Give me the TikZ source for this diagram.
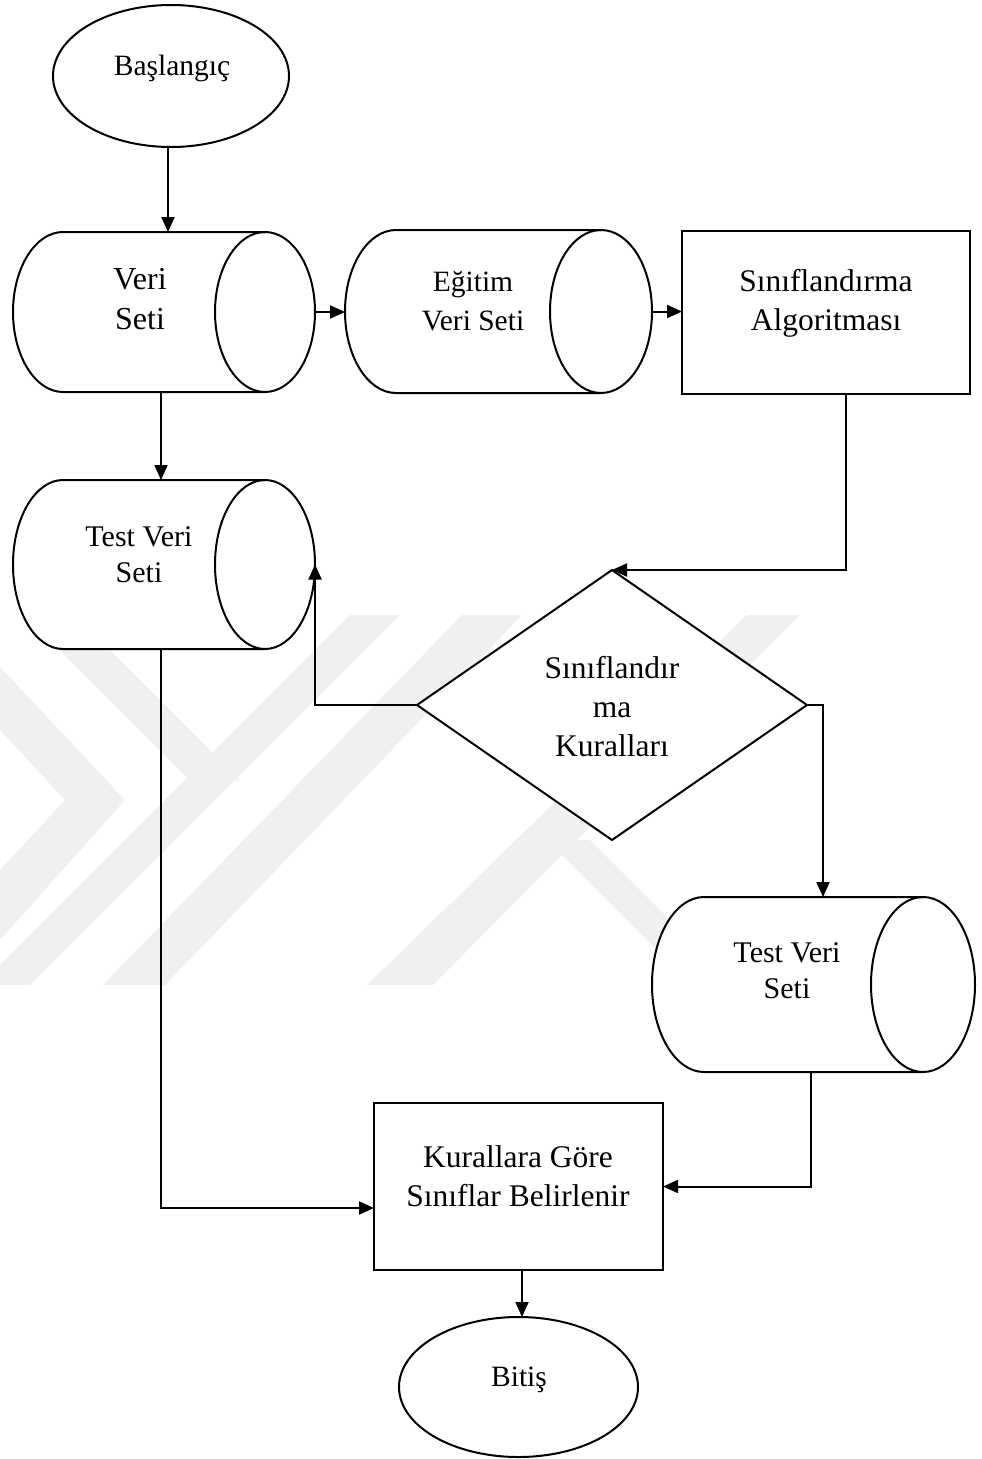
\documentclass[tikz,border=0pt]{standalone}
\usepackage{fontspec}
\setmainfont{Liberation Serif}[Ligatures=NoCommon]
\usetikzlibrary{arrows.meta,shapes.geometric,calc}
\newcommand{\mycyl}[6]{%
  \node[inner sep=0pt, outer sep=0pt, minimum width={(#3-#2)*1pt}, minimum height={(#5-#4)*1pt}] (#1) at ({(#2+#3)/2},{(#4+#5)/2}) {};
  \pgfmathsetmacro\cylry{(#5-#4)/2}
  \draw[plain, fill=white] ({#2+#6},#4) -- ({#3-#6},#4) arc[start angle=90, end angle=-90, x radius=#6pt, y radius=\cylry pt] -- ({#2+#6},#5) arc[start angle=270, end angle=90, x radius=#6pt, y radius=\cylry pt] -- cycle;
  \draw[plain] ({#3-#6},#4) arc[start angle=90, end angle=270, x radius=#6pt, y radius=\cylry pt];
}
\begin{document}
\begin{tikzpicture}[x=1pt,y=-1pt,
  plain/.style={line width=2pt, line join=miter},
  conn/.style={line width=2pt, -{Triangle[length=15pt,width=13pt]}},
  shp/.style={draw, line width=2pt, fill=white, inner sep=0pt, outer sep=0pt},
  txtA/.style={font=\fontsize{29.5}{39}\selectfont, align=center, inner sep=0pt},
  txtT/.style={font=\fontsize{30}{36}\selectfont, align=center, inner sep=0pt},
  txtB/.style={font=\fontsize{31.5}{39}\selectfont, align=center, inner sep=0pt},
  txtV/.style={font=\fontsize{32}{40}\selectfont, align=center, inner sep=0pt},
  wm/.style={fill=black!6, draw=none}]
\useasboundingbox (0,0) rectangle (982,1459);
% faint background watermark
\begin{scope}
\clip (0,0) rectangle (982,1459);
\fill[wm] (350,615) -- (400,615) -- (30,985) -- (-20,985) -- cycle;
\fill[wm] (462,615) -- (522,615) -- (165,985) -- (103,985) -- cycle;
\fill[wm] (747,615) -- (800,615) -- (433,985) -- (367,985) -- cycle;
\fill[wm] (60,650) -- (110,650) -- (240,780) -- (190,780) -- cycle;
\fill[wm] (0,667) -- (125,800) -- (0,940) -- (0,870) -- (65,800) -- (0,730) -- cycle;
\fill[wm] (547,840) -- (590,840) -- (735,985) -- (692,985) -- cycle;
\end{scope}
% shapes
\node[shp, ellipse, minimum width=236pt, minimum height=142pt] (start) at (171,76) {};
\node[txtA] (start-t) at (172,68.5) {Başlangıç};
\mycyl{vs}{13}{315}{232}{392}{50}
\node[txtV] (vs-t) at (140,299.5) {Veri\\Seti};
\mycyl{eg}{345}{652}{230}{393}{51}
\node[txtA] (eg-t) at (473,301) {Eğitim\\Veri Seti};
\node[shp, rectangle, minimum width=288pt, minimum height=163pt] (alg) at (826,312.5) {};
\node[txtB] (alg-t) at (826,303.6) {Sınıflandırma\\Algoritması};
\mycyl{tv1}{13}{315}{480}{649}{50}
\node[txtT] (tv1-t) at (139,554.5) {Test Veri\\Seti};
\node[shp, diamond, minimum width=390pt, minimum height=270pt] (dia) at (612,705) {};
\node[txtB] (dia-t) at (612,707) {Sınıflandır\\ma\\Kuralları};
\mycyl{tv2}{652}{975}{897}{1072}{52}
\node[txtT] (tv2-t) at (787,971) {Test Veri\\Seti};
\node[shp, rectangle, minimum width=289pt, minimum height=167pt] (box) at (518.5,1186.5) {};
\node[txtB] (box-t) at (518,1176) {Kurallara Göre\\Sınıflar Belirlenir};
\node[shp, ellipse, minimum width=239pt, minimum height=140pt] (bitis) at (518.5,1387) {};
\node[txtA] (bitis-t) at (519,1380) {Bitiş};
% connectors
\draw[conn] ([xshift=-3pt]start.south) -- ([xshift=-3pt]start.south |- vs.north);
\draw[conn] (vs.east) -- (vs.east -| eg.west);
\draw[conn] (eg.east) -- (eg.east -| alg.west);
\draw[conn] ([xshift=20pt]alg.south) |- (dia.north);
\draw[conn] ([xshift=-3pt]vs.south) -- ([xshift=-3pt]vs.south |- tv1.north);
\draw[conn] (dia.west) -| (tv1.east);
\draw[conn] (dia.east) -| ([xshift=9.5pt]tv2.north);
\draw[conn] ([xshift=-2.5pt]tv2.south) |- (box.east);
\draw[conn] ([xshift=-3pt]tv1.south) |- ([yshift=-21.5pt]box.west);
\draw[conn] ([xshift=3.5pt]box.south) -- ([xshift=3.5pt]box.south |- bitis.north);
\end{tikzpicture}
\end{document}
